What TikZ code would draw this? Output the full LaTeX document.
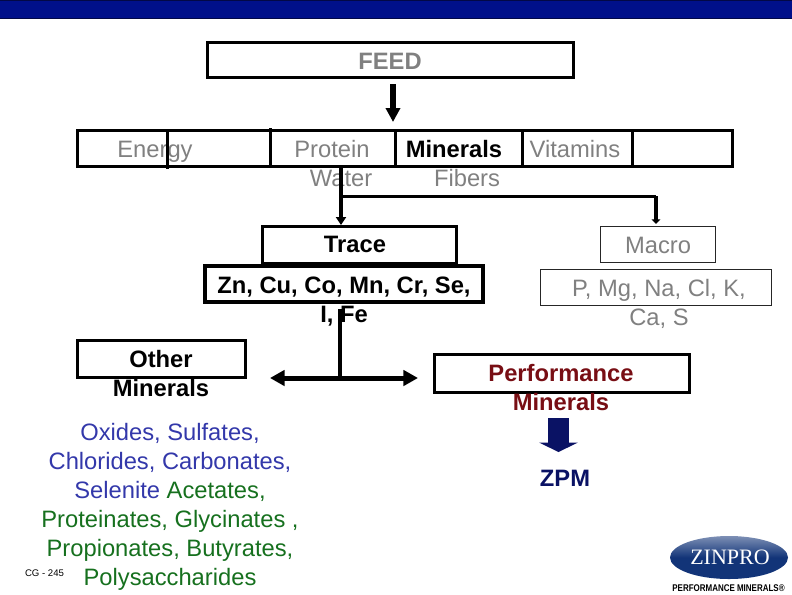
\documentclass[tikz,border=0pt]{standalone}
\usepackage{fontspec}
\setmainfont{Liberation Sans}
\newfontfamily\logofont{Liberation Serif}
\usetikzlibrary{arrows.meta, shapes.geometric}
\definecolor{zinband}{RGB}{0, 16, 138}
\definecolor{zinedge}{RGB}{2, 8, 70}
\definecolor{zingray}{RGB}{128, 128, 128}
\definecolor{zinblue}{RGB}{51, 56, 170}
\definecolor{zingreen}{RGB}{22, 112, 30}
\definecolor{zinred}{RGB}{120, 14, 20}
\definecolor{zinnavy}{RGB}{10, 18, 100}
\definecolor{zinlogo}{RGB}{18, 52, 120}

\begin{document}
\begin{tikzpicture}[
      x=0.75pt, y=-0.75pt,
      box/.style={rectangle, draw=black, line width=2.25pt, inner sep=0pt},
      thinbox/.style={box, draw=black!85, line width=0.75pt},
      txt/.style={anchor=base, inner sep=0pt, align=center, font=\fontsize{17.8}{21.75}\selectfont},
      graytxt/.style={txt, text=zingray},
      boldtxt/.style={txt, font=\fontsize{17.8}{21.75}\selectfont\bfseries},
      divider/.style={line width=2.25pt},
      arr/.style={-{Triangle[length=10.5pt, width=10.5pt]}, line width=4pt},
      slimarr/.style={-{Triangle[length=6pt, width=7.5pt]}, line width=3pt}
    ]
      \useasboundingbox (0, 0) rectangle (792, 594);

      % top band
      \fill[zinband, draw=zinedge, line width=0.75pt] (-2, 0) rectangle (794, 18);

      % boxes
      \node[box, minimum width=274.5pt, minimum height=26.25pt] (feed) at (390, 60) {};
      \node[box, minimum width=491.25pt, minimum height=27pt] (row) at (404.5, 148) {};
      \node[box, minimum width=145.5pt, minimum height=27.75pt] (trace) at (359, 244.5) {};
      \node[box, line width=3pt, minimum width=208.5pt, minimum height=27pt] (tracelist) at (344, 283.5) {};
      \node[thinbox, minimum width=86.25pt, minimum height=27pt] (macro) at (657.5, 244) {};
      \node[thinbox, minimum width=173.25pt, minimum height=27pt] (macrolist) at (655.5, 287) {};
      \node[box, minimum width=126pt, minimum height=27.75pt] (other) at (161, 358.5) {};
      \node[box, minimum width=191.25pt, minimum height=28.5pt] (perf) at (561.5, 373) {};

      % labels
      \node[graytxt, font=\fontsize{17.8}{21.75}\selectfont\bfseries] (feedtxt) at (390, 69) {FEED};
      \node[graytxt] (energy) at (155, 157) {Energy};
      \node[graytxt] (protein) at (332, 157) {Protein};
      \node[boldtxt] (minerals) at (454, 157) {Minerals};
      \node[graytxt] (vitamins) at (575, 157) {Vitamins};
      \node[graytxt] (water) at (341, 186) {Water};
      \node[graytxt] (fibers) at (467, 186) {Fibers};
      \node[boldtxt] (tracetxt) at (355, 252) {Trace};
      \node[boldtxt] (tracenames) at (344, 322) {Zn, Cu, Co, Mn, Cr, Se,\\I, Fe};
      \node[graytxt] (macrotxt) at (658, 253) {Macro};
      \node[graytxt] (macronames) at (659, 325) {P, Mg, Na, Cl, K,\\Ca, S};
      \node[boldtxt] (othertxt) at (161, 396) {Other\\Minerals};
      \node[boldtxt, text=zinred] (perftxt) at (561, 410) {Performance\\Minerals};
      \node[boldtxt, text=zinnavy] (zpm) at (565, 486) {ZPM};
      \node[txt, text=zinblue] (sources) at (170, 585) {Oxides, Sulfates,\\Chlorides, Carbonates,\\Selenite \textcolor{zingreen}{Acetates,}\\\textcolor{zingreen}{Proteinates, Glycinates ,}\\\textcolor{zingreen}{Propionates, Butyrates,}\\\textcolor{zingreen}{Polysaccharides}};
      \node[anchor=base, inner sep=0pt, font=\fontsize{7.2}{8}\selectfont] (slidecode) at (44.5, 576) {CG - 245};

      % row dividers
      \draw[divider] (167, 130) -- (167, 169);
      \draw[divider] (270, 128) -- (270, 166);
      \draw[divider] (395, 131) -- (395, 166);
      \draw[divider] (522, 129) -- (522, 166);
      \draw[divider] (632, 131) -- (632, 168);

      \coordinate (feedout) at (393, 84);
      \coordinate (feedtip) at (393, 122);
      \coordinate (drop) at (341, 166);
      \coordinate (droptip) at (341, 225);
      \coordinate (branch) at (341, 196);
      \coordinate (corner) at (656, 196);
      \coordinate (macrotip) at (656, 224);
      \coordinate (splittop) at (340, 309);
      \coordinate (split) at (340, 378);
      \coordinate (splitleft) at (270, 378);
      \coordinate (splitright) at (418, 378);
      \coordinate (zpmout) at (558.5, 418);
      \coordinate (zpmtip) at (558.5, 452);

      \draw[arr] (feedout) -- (feedtip);
      \draw[slimarr] (drop) -- (droptip);
      \draw[line width=2.25pt] (branch) -- (corner);
      \draw[-{Triangle[length=3.5pt, width=6.5pt]}, line width=3.5pt] (corner) -- (macrotip);
      \draw[line width=3pt] (splittop) -- (split);
      \draw[{Triangle[length=11pt, width=11.5pt]}-{Triangle[length=11pt, width=11.5pt]}, line width=3.75pt] (splitleft) -- (splitright);
      \draw[-{Triangle[length=7pt, width=28.5pt]}, line width=15.75pt, zinnavy] (zpmout) -- (zpmtip);

      % logo
      \node[ellipse, minimum width=88.5pt, minimum height=32.25pt, inner sep=0pt, top color=zinlogo!55!white, bottom color=zinlogo, middle color=zinlogo] (logo) at (729, 557.5) {};
      \node[inner sep=0pt, text=white, font=\logofont\fontsize{16.5}{18}\selectfont] (logotxt) at (730, 557) {ZINPRO};
      \node[anchor=base, inner sep=0pt, font=\fontsize{7.3}{8}\selectfont\bfseries] (tagline) at (728.5, 591) {\scalebox{0.82}[1]{PERFORMANCE MINERALS®}};
    \end{tikzpicture}
\end{document}
